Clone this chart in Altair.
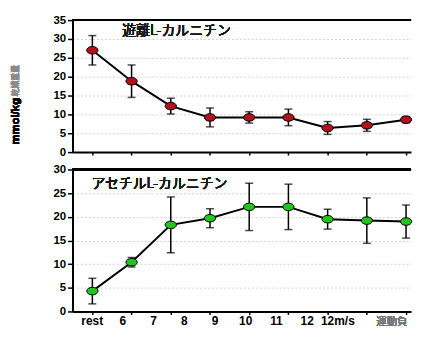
import altair as alt
import pandas as pd

stages = ["rest", "6", "7", "8", "9", "10", "11", "12", "12m/s"]
free_mean = [27.0, 18.8, 12.2, 9.2, 9.2, 9.2, 6.4, 7.1, 8.6]
free_err = [3.9, 4.3, 2.1, 2.5, 1.5, 2.2, 1.7, 1.6, 0.8]
acetyl_mean = [4.3, 10.4, 18.3, 19.7, 22.1, 22.1, 19.5, 19.2, 19.0]
acetyl_err = [2.7, 1.0, 5.9, 2.0, 5.0, 4.8, 2.1, 4.8, 3.5]
tick_labels = ["rest", "6", "7", "8", "9", "10", "11", "12", "12m/s"]

W = 341
H_TOP = 133
H_BOT = 143
FONT = "Liberation Sans"
JP = "Noto Sans CJK JP"


def frame(means, errs):
    return pd.DataFrame({
        "idx": list(range(len(means))),
        "stage": stages,
        "v": means,
        "lo": [m - e for m, e in zip(means, errs)],
        "hi": [m + e for m, e in zip(means, errs)],
    })


ellipse = "M -1 0 A 1 0.67 0 1 0 1 0 A 1 0.67 0 1 0 -1 0 Z"


def panel(df, ymax, h, color, title, title_x, title_y, extra=None):
    xs = alt.Scale(domain=[-0.506, 8.127], nice=False, zero=False)
    xax = alt.Axis(values=list(range(9)), labels=False, title=None, grid=False,
                   domainColor="black", domainWidth=2, tickColor="black",
                   tickWidth=1.5, tickSize=3)
    ys = alt.Scale(domain=[0, ymax], nice=False)
    yax = alt.Axis(values=list(range(0, ymax + 1, 5)), title=None,
                   labelFont=FONT, labelFontWeight="bold", labelFontSize=11.5,
                   labelColor="black", labelPadding=2, labelOverlap=False,
                   labelFlush=False,
                   domainColor="black", domainWidth=2, tickColor="black",
                   tickWidth=1.5, tickSize=5,
                   grid=True, gridColor="#d2d2d2", gridDash=[2, 2], gridWidth=1)
    base = alt.Chart(df)
    X = alt.X("idx:Q", scale=xs, axis=xax)

    def Y(f):
        return alt.Y(f, scale=ys, axis=yax)

    grid = base.mark_line(opacity=0).encode(x=X, y=Y("v:Q"))
    top = base.mark_rule(color="black", strokeWidth=2).encode(
        x=alt.value(0), x2=alt.value(W), y=alt.value(0))
    bars = base.mark_rule(color="black", strokeWidth=1.5).encode(
        x=X, y=Y("lo:Q"), y2="hi:Q")
    cap_lo = base.mark_tick(color="black", thickness=1.5, size=8, orient="horizontal").encode(
        x=X, y=Y("lo:Q"))
    cap_hi = base.mark_tick(color="black", thickness=1.5, size=8, orient="horizontal").encode(
        x=X, y=Y("hi:Q"))
    line = base.mark_line(color="black", strokeWidth=2).encode(x=X, y=Y("v:Q"))
    pts = base.mark_point(shape=ellipse, size=130, filled=True, fill=color,
                          stroke="black", strokeWidth=1, opacity=1).encode(
        x=X, y=Y("v:Q"))
    ttl = base.mark_text(text=title, font=JP, fontSize=14, color="#1a1a1a",
                         align="left", baseline="middle").encode(
        x=alt.value(title_x), y=alt.value(title_y))
    layers = [grid, top, bars, cap_lo, cap_hi, line, pts, ttl]
    if extra:
        layers += extra
    return alt.layer(*layers).properties(width=W, height=h)


top_df = frame(free_mean, free_err)
bot_df = frame(acetyl_mean, acetyl_err)

ytitle1 = alt.Chart(top_df).mark_text(text="mmol/kg", font=FONT, fontSize=11.5,
                                      fontWeight="bold", color="black", angle=270,
                                      align="center", baseline="middle").encode(
    x=alt.value(-57), y=alt.value(102))
ytitle2 = alt.Chart(top_df).mark_text(text="乾燥重量", font=JP, fontSize=8,
                                      color="#8a8a8a", angle=270,
                                      align="center", baseline="middle").encode(
    x=alt.value(-57), y=alt.value(61))

top_panel = panel(top_df, 35, H_TOP, "#b3121c", "遊離L-カルニチン", 50, 11,
                  extra=[ytitle1, ytitle2])

lab_df = pd.DataFrame({"lab": tick_labels})
xlabels = alt.Chart(lab_df).mark_text(font=FONT, fontSize=12, fontWeight="bold",
                                      color="black", baseline="middle").encode(
    x=alt.X("lab:N", sort=None, axis=None,
            scale=alt.Scale(type="point", domain=tick_labels, range=[19.8, 267.3],
                            padding=0)),
    y=alt.value(H_BOT + 10), text="lab:N")
xtitle = alt.Chart(lab_df).mark_text(text="運動負荷", font=JP, fontSize=10.5,
                                     color="#777777", align="left", baseline="middle",
                                     limit=35, ellipsis=" ").encode(
    x=alt.value(306), y=alt.value(H_BOT + 11))

bottom_base = panel(bot_df, 30, H_BOT, "#22c51e", "アセチルL-カルニチン", 19, 14.5)
bottom_panel = alt.layer(bottom_base, xlabels, xtitle).resolve_scale(x="independent")

chart = alt.vconcat(top_panel, bottom_panel, spacing=5.5).properties(
    padding={"left": 2, "top": 5, "right": 0, "bottom": 0}
).configure_view(stroke=None)

chart.save("out.html", embed_options={"renderer": "svg", "actions": False})
